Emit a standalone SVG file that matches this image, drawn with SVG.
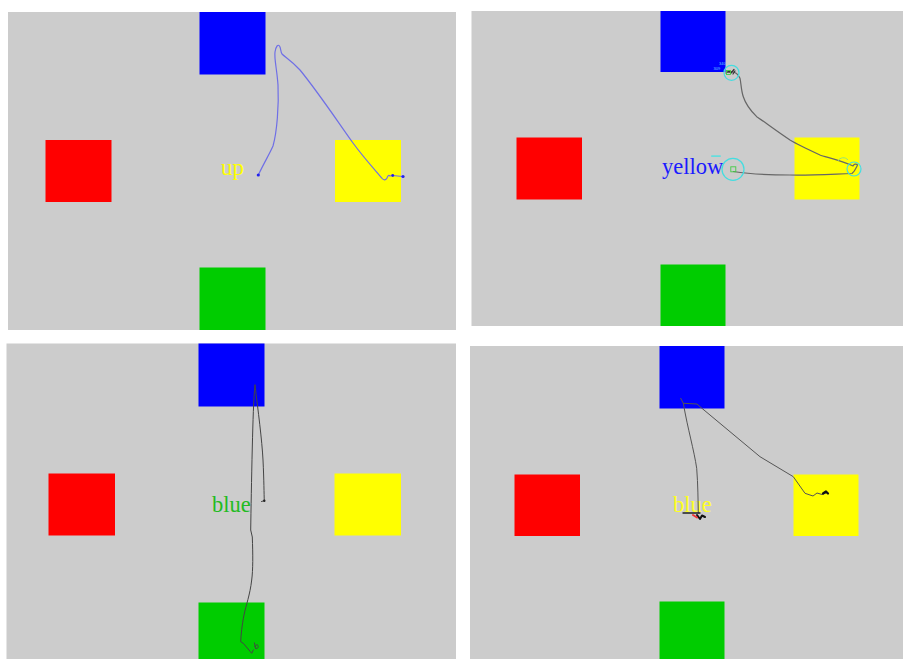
<svg xmlns="http://www.w3.org/2000/svg" width="903" height="659" viewBox="0 0 903 659">
<style>
.bg{fill:#cccccc}
.b{fill:#0000ff}
.r{fill:#ff0000}
.y{fill:#ffff00}
.g{fill:#00cc00}
.lbl{font-family:"Liberation Serif","Times New Roman",serif;font-size:22.5px}
.tr{fill:none;stroke-linejoin:round;stroke-linecap:round}
.ring{fill:none;stroke:#44dde0;stroke-width:1.2}
.tiny{font-family:"Liberation Sans",Arial,sans-serif;font-size:4px;fill:#66ccff}
</style>
<rect width="903" height="659" fill="#ffffff"/>

<g id="panel1">
<rect class="bg" x="8" y="12" width="448" height="318"/>
<g id="p1-blue"><rect class="b" x="199.5" y="12" width="66" height="62.5"/></g>
<g id="p1-red"><rect class="r" x="45.5" y="140" width="66" height="62"/></g>
<g id="p1-yellow"><rect class="y" x="335" y="140" width="66" height="62"/></g>
<g id="p1-green"><rect class="g" x="199.5" y="267.5" width="66" height="62.5"/></g>
<text class="lbl" x="221" y="175" fill="#ffff00" style="font-size:23px">up</text>
</g>

<g id="panel2">
<rect class="bg" x="471.5" y="11" width="431.5" height="315"/>
<g id="p2-blue"><rect class="b" x="660.5" y="11" width="65" height="61"/></g>
<g id="p2-red"><rect class="r" x="516.5" y="137.5" width="65.5" height="62"/></g>
<g id="p2-yellow"><rect class="y" x="794.5" y="137.5" width="65" height="62"/></g>
<g id="p2-green"><rect class="g" x="660.5" y="264.5" width="65" height="61.5"/></g>
<text class="lbl" x="662" y="173.5" fill="#1a1aff">yellow</text>
<text class="tiny" x="719" y="64.5">340</text>
<text class="tiny" x="713.5" y="70">309</text>
<rect x="711" y="155.2" width="10" height="1.8" rx="0.9" fill="#66dddd"/>
</g>

<g id="panel3">
<rect class="bg" x="6.5" y="343.5" width="449.5" height="315.5"/>
<g id="p3-blue"><rect class="b" x="198.5" y="343.5" width="66" height="63"/></g>
<g id="p3-red"><rect class="r" x="48.5" y="473.5" width="66.5" height="62"/></g>
<g id="p3-yellow"><rect class="y" x="334.5" y="473.5" width="66.5" height="62"/></g>
<g id="p3-green"><rect class="g" x="198.5" y="602.5" width="66" height="56.5"/></g>
<text class="lbl" x="212" y="512" fill="#22bb22">blue</text>
</g>

<g id="panel4">
<rect class="bg" x="470" y="346" width="433" height="313"/>
<g id="p4-blue"><rect class="b" x="659.5" y="346" width="65" height="62.5"/></g>
<g id="p4-red"><rect class="r" x="514.5" y="474.5" width="65.5" height="61.5"/></g>
<g id="p4-yellow"><rect class="y" x="793.5" y="474.5" width="65" height="61.5"/></g>
<g id="p4-green"><rect class="g" x="659.5" y="601.5" width="65" height="57.5"/></g>
<text class="lbl" x="673" y="512" fill="#ffff22">blue</text>
</g>

<g id="connectors">
<!-- panel 1 trajectory -->
<path class="tr" stroke="#6f6fe6" stroke-width="1.2" d="M258.3,175 C264,163 270,153 273,146 C277,132 279,105 278,85 C277,70 274,58 275,52 C276,46 278,44 279.5,46 C281,48 280.5,52 282,54 C285,57 292,61 300,70 C318,92 338,122 353,143 C364,158 375,170 381.7,178 C384,181 386,180 387,178 C388,175 389,175 390,176 L392.7,175.5 L402.7,176.5"/>
<circle cx="258.3" cy="175" r="1.6" fill="#2222ee"/>
<circle cx="392.7" cy="175.5" r="1.4" fill="#2222ee"/>
<circle cx="403" cy="176.5" r="1.6" fill="#2222ee"/>

<!-- panel 2 trajectory -->
<path class="tr" stroke="#666666" stroke-width="1.2" d="M733.3,171.5 C750,174 773,175 790,175 C810,175.5 835,174 852,173.5 C855,171 856,168 857.5,165 C856,163.5 854,164 853,166 C840,160 825,157 820,155 C805,148 795,143 790,140 C775,130 762,120 756.7,116.7 C750,110 745,102 743.3,96.7 C741,90 741,82 740,78.3 C738,74 735,72 731.7,71.7 L728.5,72.5"/>
<path class="tr" stroke="#333333" stroke-width="1.2" d="M726,73 L729,71 L731,73 L734,69.5 M735,71 L733,74"/>
<circle class="ring" cx="733" cy="169.3" r="11"/>
<circle class="ring" cx="731.5" cy="72.8" r="7.5"/>
<circle class="ring" cx="854" cy="169" r="7"/>
<rect x="730.8" y="166.8" width="5" height="5" fill="none" stroke="#44cc44" stroke-width="0.9"/>
<rect x="726.5" y="70.5" width="4" height="4" fill="none" stroke="#44cc44" stroke-width="0.9"/>
<path d="M838,161 A6,6 0 0 1 848,160" fill="none" stroke="#88dd88" stroke-width="0.9"/>

<!-- panel 3 trajectory -->
<path class="tr" stroke="#444444" stroke-width="1" d="M255,385 C253.5,400 253,420 252.3,447 C251.5,480 251,510 250.7,530 L252.3,537 C253,555 253,570 251.7,580 C250,595 246,605 244,615 C242,625 241,635 240.7,641.7 L243.3,643.3 L251.7,653.3 L253.3,650 M254.5,643 L255.5,648.5 C257.5,649 259,647 258,645.5 C257,644 255.5,645 255,646.5"/>
<path class="tr" stroke="#444444" stroke-width="1" d="M255,385 C258,410 262,440 263,460 C264,480 264,495 264.3,500.7 L261.5,501.5"/>
<circle cx="264.3" cy="500.8" r="1.2" fill="#222222"/>

<!-- panel 4 trajectory -->
<path class="tr" stroke="#555555" stroke-width="1" d="M680.7,398.3 L683.3,403.3 C688,430 694,450 696.7,468.3 C698,485 698,500 698.3,513"/>
<path class="tr" stroke="#555555" stroke-width="1" d="M683.3,403.3 L697,404 L700,406.7 L760,456.7 L793.3,476.7 L805,493.3 L813,496 L817,493 L822,494.5 L827,492.7"/>
<path class="tr" stroke="#222222" stroke-width="1.3" d="M683,513 L700,513"/>
<path class="tr" stroke="#111111" stroke-width="2" d="M697,515 L700,519 L702,515.5 L705,517"/>
<path class="tr" stroke="#ee3333" stroke-width="2" d="M693,515 L697,517.5"/>
<path class="tr" stroke="#111111" stroke-width="2.2" d="M823,493.5 L826,491.5 L828,493.5"/>
</g>
</svg>
